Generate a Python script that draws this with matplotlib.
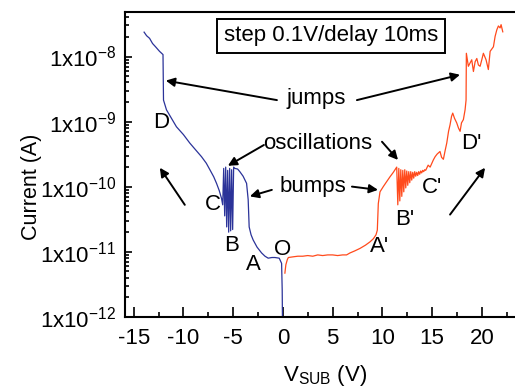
import numpy as np
import matplotlib
matplotlib.use("Agg")
import matplotlib.pyplot as plt
from matplotlib.ticker import FuncFormatter, FixedLocator, LogLocator

plt.rcParams['font.family'] = ['Liberation Sans', 'DejaVu Sans']
plt.rcParams['mathtext.fontset'] = 'custom'
plt.rcParams['mathtext.rm'] = 'Liberation Sans'
plt.rcParams['mathtext.it'] = 'Liberation Sans'
plt.rcParams['mathtext.bf'] = 'Liberation Sans'

# negative sweep (blue): V_SUB in volts, log10 of current in A
neg_v = [-13.95, -13.7, -13.4, -13.1, -12.8, -12.4, -12.05, -12.0, -11.7, -11.2,
         -10.7, -10.0, -9.36, -8.8, -8.18, -7.7, -7.34, -6.95, -6.67, -6.4,
         -6.17, -6.05,
         -5.95, -5.85, -5.75, -5.65, -5.55, -5.45, -5.35, -5.25, -5.15, -5.05, -4.95,
         -4.83, -4.55, -4.33, -4.0, -3.65, -3.49, -3.39, -3.2, -2.99, -2.6,
         -2.14, -1.8, -1.48, -1.1, -0.8, -0.37, -0.13, -0.07, -0.03]
neg_log_i = [-7.625, -7.68, -7.72, -7.80, -7.85, -7.92, -7.97, -8.67, -8.82, -8.95,
             -9.08, -9.20, -9.33, -9.43, -9.54, -9.64, -9.74, -9.85, -9.95, -10.06,
             -10.18, -10.28,
             -9.72, -10.45, -9.70, -10.62, -9.75, -10.70, -9.72, -10.68, -9.74, -10.66, -9.70,
             -9.72, -9.73, -9.77, -9.84, -9.95, -10.20, -10.62, -10.74, -10.82, -10.93,
             -11.02, -11.07, -11.10, -11.09, -11.09, -11.10, -11.18, -11.59, -12.3]

# positive sweep (orange)
pos_v = [0.2, 0.3, 0.45, 0.55, 1.0, 1.5, 2.0, 2.5, 3.0, 3.5, 4.0, 4.5, 5.0, 5.5,
         6.0, 6.4, 6.74, 7.2, 7.75, 8.3, 8.75, 9.1, 9.36, 9.49, 9.59, 9.76, 10.09,
         10.4, 10.76, 11.1, 11.44,
         11.55, 11.65, 11.75, 11.85, 11.95, 12.05, 12.15, 12.25, 12.35, 12.45,
         12.55, 12.65, 12.75, 12.85, 12.95, 13.05, 13.15, 13.25, 13.35, 13.45,
         13.55, 13.65, 13.75, 13.85, 13.95, 14.05, 14.15, 14.25, 14.35,
         14.6, 14.8, 15.12, 15.3, 15.5, 15.79, 15.95, 16.13, 16.3, 16.47, 16.65,
         16.8, 16.95, 17.07, 17.25, 17.47, 17.65, 17.81, 17.95, 18.14, 18.31, 18.41,
         18.44, 18.64, 18.81, 18.98, 19.15, 19.32, 19.49, 19.65, 19.82, 19.99,
         20.15, 20.42, 20.65, 20.83, 21.16, 21.33, 21.5, 21.66, 21.83, 21.93, 22.1]
pos_log_i = [-11.33, -11.20, -11.12, -11.09, -11.08, -11.07, -11.07, -11.06, -11.07,
             -11.05, -11.06, -11.05, -11.05, -11.06, -11.05, -11.05, -11.02, -10.99,
             -10.95, -10.90, -10.85, -10.80, -10.74, -10.67, -10.26, -10.08, -10.00,
             -9.93, -9.85, -9.78, -9.70,
             -10.28, -9.72, -10.22, -9.74, -10.15, -9.75, -10.08, -9.74, -10.02, -9.76,
             -9.98, -9.77, -9.94, -9.77, -9.90, -9.78, -9.87, -9.77, -9.84, -9.78,
             -9.83, -9.77, -9.81, -9.76, -9.79, -9.75, -9.77, -9.74, -9.75,
             -9.67, -9.70, -9.59, -9.54, -9.50, -9.46, -9.55, -9.58, -9.45, -9.33, -9.15,
             -9.05, -8.92, -8.87, -8.95, -9.02, -9.10, -9.15, -9.02, -8.97, -8.82, -8.67,
             -7.95, -8.15, -8.10, -8.05, -8.23, -8.08, -8.03, -8.13, -8.15, -8.05,
             -7.95, -8.05, -8.20, -7.92, -7.85, -7.69, -7.59, -7.53, -7.56, -7.51, -7.62]

x_ticks = [-15, -10, -5, 0, 5, 10, 15, 20]
x_minor = [-12.5, -7.5, -2.5, 2.5, 7.5, 12.5, 17.5, 22.5]

# labels of the curve regions: (text, V, log10 I)
point_labels = [("D", -12.2, -9.02), ("C", -7.01, -10.28), ("B", -5.16, -10.9),
                ("A", -2.99, -11.2), ("O", -0.05, -10.96), ("A'", 9.76, -10.92),
                ("B'", 12.27, -10.51), ("C'", 14.96, -10.02), ("D'", 18.98, -9.33)]

# callouts: (text, V, log10 I) and arrows (from V, from log, to V, to log)
callouts = [("jumps", 3.39, -8.64), ("oscillations", 3.52, -9.33), ("bumps", 3.02, -10.0)]
arrows = [(-0.6, -8.67, -11.77, -8.37), (7.44, -8.67, 17.8, -8.28),
          (-1.91, -9.36, -5.53, -9.68), (9.96, -9.31, 11.57, -9.59),
          (-1.11, -10.05, -3.32, -10.15), (6.94, -10.0, 9.56, -10.05),
          (-9.86, -10.28, -12.37, -9.71), (16.8, -10.43, 20.32, -9.71)]

fig = plt.figure(figsize=(5.15, 3.89), dpi=100)
ax = fig.add_axes([124.7 / 515, 1 - 316.7 / 389, 393 / 515, 304.4 / 389])

ax.plot(neg_v, 10 ** np.array(neg_log_i), color='#2b3399', lw=0.9)
ax.plot(pos_v, 10 ** np.array(pos_log_i), color='#ff4a1c', lw=0.9)

ax.set_yscale('log')
ax.set_xlim(-15.9, 23.6)
ax.set_ylim(1e-12, 10 ** -7.32)

ax.xaxis.set_major_locator(FixedLocator(x_ticks))
ax.xaxis.set_minor_locator(FixedLocator(x_minor))
ax.yaxis.set_major_locator(LogLocator(base=10, numticks=10))
ax.yaxis.set_minor_locator(LogLocator(base=10, subs=np.arange(2, 10), numticks=20))
ax.yaxis.set_major_formatter(FuncFormatter(lambda v, p: "1x10$^{%d}$" % round(np.log10(v))))
ax.xaxis.set_major_formatter(FuncFormatter(lambda v, p: "%d" % v))

ax.tick_params(axis='both', which='both', direction='in', top=False, right=False,
               labelsize=16, width=1.2)
ax.tick_params(axis='x', which='major', length=7.5, pad=8)
ax.tick_params(axis='x', which='minor', length=3.5)
ax.tick_params(axis='y', which='major', length=5, pad=6)
ax.tick_params(axis='y', which='minor', length=3)
for s in ax.spines.values():
    s.set_linewidth(1.5)

fig.text(32 / 515, 1 - 187 / 389, "Current (A)", rotation=90, ha='center', va='center',
         fontsize=15.5)
fig.text(325 / 515, 1 - 376 / 389, r"V$_{\mathrm{SUB}}$ (V)", ha='center', va='center',
         fontsize=16)

ax.text(4.83, 10 ** -7.68, "step 0.1V/delay 10ms", ha='center', va='center', fontsize=16,
        bbox=dict(boxstyle='square,pad=0.3', fc='white', ec='black', lw=1.4))

for t, x, ly in point_labels:
    ax.text(x, 10 ** ly, t, ha='center', va='center', fontsize=16)
for t, x, ly in callouts:
    ax.text(x, 10 ** ly, t, ha='center', va='center', fontsize=16)
for x0, y0, x1, y1 in arrows:
    ax.annotate("", xy=(x1, 10 ** y1), xytext=(x0, 10 ** y0),
                arrowprops=dict(arrowstyle='-|>', color='black', lw=1.4,
                                mutation_scale=13, shrinkA=0, shrinkB=0))

fig.savefig("out.png", dpi=100)
